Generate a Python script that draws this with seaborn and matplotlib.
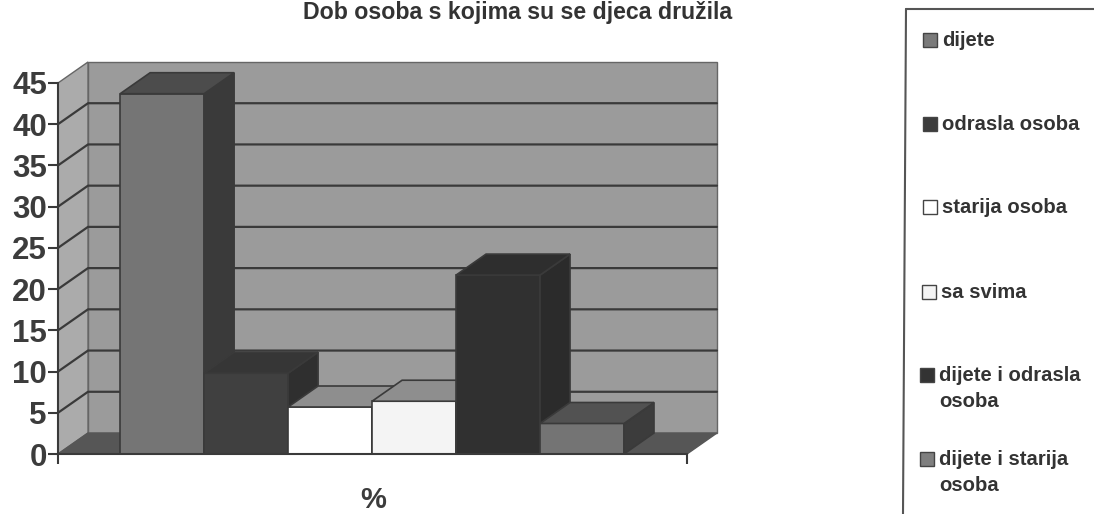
import matplotlib
matplotlib.use("Agg")
import matplotlib.pyplot as plt
import seaborn as sns
from matplotlib.patches import Polygon, Rectangle

# podaci
kategorije = ["dijete", "odrasla osoba", "starija osoba", "sa svima",
              "dijete i odrasla\nosoba", "dijete i starija\nosoba"]
postotci = [43.7, 9.8, 5.7, 6.4, 21.7, 3.7]
y_ticks = [0, 5, 10, 15, 20, 25, 30, 35, 40, 45]

# boje: prednja strana, bok, vrh
front_colors = ["#757575", "#404040", "#ffffff", "#f4f4f4", "#303030", "#747474"]
side_colors = ["#3a3a3a", "#2f2f2f", "#9a9a9a", "#9a9a9a", "#2b2b2b", "#3c3c3c"]
top_colors = ["#4c4c4c", "#363636", "#8e8e8e", "#8e8e8e", "#2e2e2e", "#525252"]
line_color = "#3a3a3a"

sns.set_theme(style="white")
plt.rcParams["font.family"] = ["Liberation Sans", "DejaVu Sans"]
plt.rcParams["font.weight"] = "bold"

W, H = 1094, 514
fig = plt.figure(figsize=(W / 100, H / 100), dpi=100)
ax = fig.add_axes([58 / W, (H - 454) / H, 629 / W, 371 / H])

sns.barplot(x=kategorije, y=postotci, hue=kategorije, palette=front_colors,
            width=1, legend=False, saturation=1, ax=ax)
ax.set_xlim(-1.24, 6.25)
ax.set_ylim(0, 45)

# dubina 3D efekta u jedinicama podataka
dx = 30 / 84
dy = 21 / (371 / 45)
x0, x1 = ax.get_xlim()

# zidovi i pod
ax.add_patch(Polygon([(x0 + dx, dy), (x1 + dx, dy), (x1 + dx, 45 + dy), (x0 + dx, 45 + dy)],
                     fc="#9b9b9b", ec="#666666", lw=1, clip_on=False, zorder=0.5))
ax.add_patch(Polygon([(x0, 0), (x0 + dx, dy), (x0 + dx, 45 + dy), (x0, 45)],
                     fc="#ababab", ec="#666666", lw=1, clip_on=False, zorder=0.6))
ax.add_patch(Polygon([(x0, 0), (x0 + dx, dy), (x1 + dx, dy), (x1, 0)],
                     fc="#565656", ec="#565656", lw=1, clip_on=False, zorder=0.7))

# linije mreze
for t in y_ticks[1:-1]:
    ax.plot([x0, x0 + dx, x1 + dx], [t, t + dy, t + dy], color=line_color, lw=1.6,
            clip_on=False, zorder=0.8)

# stupci s bokom i vrhom
for i, bar in enumerate(ax.patches[:len(postotci)]):
    bx, bw, bh = bar.get_x(), bar.get_width(), bar.get_height()
    z = 3 + i
    bar.set(edgecolor=line_color, linewidth=1.2, zorder=z)
    ax.add_patch(Polygon([(bx + bw, 0), (bx + bw + dx, dy), (bx + bw + dx, bh + dy), (bx + bw, bh)],
                         fc=side_colors[i], ec=line_color, lw=1.2, clip_on=False, zorder=z))
    ax.add_patch(Polygon([(bx, bh), (bx + dx, bh + dy), (bx + bw + dx, bh + dy), (bx + bw, bh)],
                         fc=top_colors[i], ec=line_color, lw=1.2, clip_on=False, zorder=z))

# osi
sns.despine(ax=ax, top=True, right=True)
for side in ["left", "bottom"]:
    ax.spines[side].set_color(line_color)
    ax.spines[side].set_linewidth(1.5)
    ax.spines[side].set_zorder(20)
ax.patch.set_visible(False)
ax.set_yticks(y_ticks)
ax.set_xticks([x0, x1])
ax.set_xticklabels(["", ""])
ax.tick_params(axis="y", length=7, width=1.5, color=line_color, labelsize=22.5,
               labelcolor="#3c3c3c", pad=1, left=True)
ax.tick_params(axis="x", length=7, width=1.5, color=line_color, bottom=True)
for lab in ax.get_yticklabels():
    lab.set_fontweight("bold")

fig.text(373 / W, 1 - 508 / H, "%", fontsize=21, color="#3c3c3c", ha="center", va="baseline")
fig.text(518 / W, 1 - 1 / H, "Dob osoba s kojima su se djeca družila", fontsize=16.7,
         color="#333333", ha="center", va="top")

# legenda
fig.add_artist(plt.Line2D([906 / W, 903 / W], [1 - 9 / H, 0], color="#555555", lw=1.5))
fig.add_artist(plt.Line2D([906 / W, 1], [1 - 9 / H, 1 - 9 / H], color="#555555", lw=1.5))
legend_square_x = [923, 923, 923, 922, 920, 920]
legend_y = [40, 124, 207, 292, 375, 459]
legend_colors = ["#7a7a7a", "#3c3c3c", "#ffffff", "#f4f4f4", "#333333", "#7f7f7f"]
for kat, c, lx, ly in zip(kategorije, legend_colors, legend_square_x, legend_y):
    fig.add_artist(Rectangle((lx / W, 1 - (ly + 7) / H), 14 / W, 14 / H, fc=c, ec="#444444", lw=1,
                             transform=fig.transFigure))
    fig.text((lx + 19) / W, 1 - (ly - 9) / H, kat, fontsize=14.6, color="#333333",
             ha="left", va="top", linespacing=1.45)

fig.savefig("out.png", dpi=100)
